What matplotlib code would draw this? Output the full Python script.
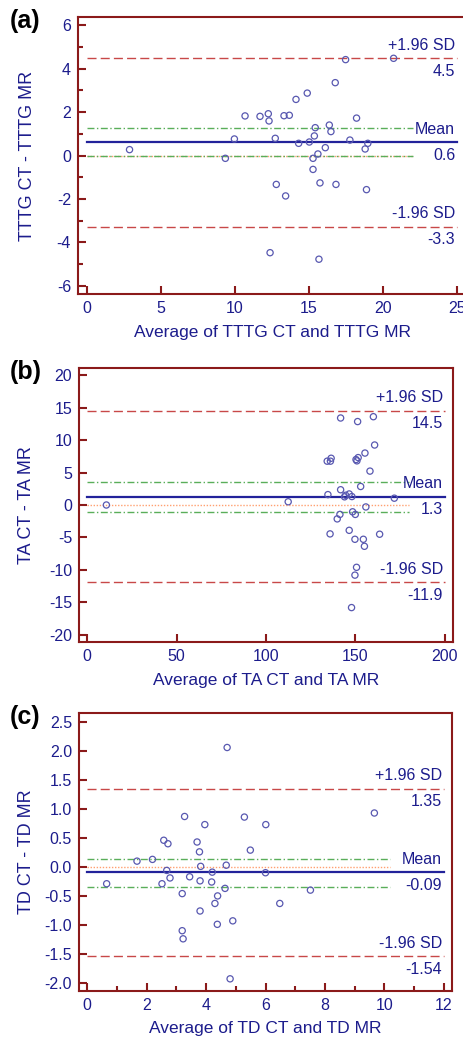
import matplotlib
matplotlib.use("Agg")
import matplotlib.pyplot as plt
from matplotlib.ticker import MultipleLocator

plt.rcParams["font.family"] = ["Liberation Sans", "DejaVu Sans"]

# (a) TTTG
tttg_avg = [2.88, 9.35, 9.96, 10.68, 11.69, 12.25, 12.30, 12.72, 12.79, 12.37, 13.42, 13.31,
            13.67, 14.12, 14.30, 14.88, 15.02, 15.42, 15.36, 15.27, 15.27, 15.60, 15.74, 15.67,
            16.10, 16.37, 16.48, 16.77, 16.82, 17.47, 17.76, 18.21, 18.79, 18.97, 18.88, 20.71]
tttg_diff = [0.27, -0.13, 0.76, 1.82, 1.80, 1.92, 1.59, 0.79, -1.33, -4.47, -1.86, 1.83,
             1.85, 2.58, 0.56, 2.87, 0.62, 1.28, 0.90, -0.13, -0.64, 0.07, -1.26, -4.77,
             0.36, 1.40, 1.10, 3.35, -1.33, 4.41, 0.71, 1.72, 0.30, 0.56, -1.57, 4.47]

# (b) TA
ta_avg = [10.8, 112.4, 134.2, 136.0, 136.4, 134.6, 135.8, 139.8, 141.3, 141.7, 141.7, 143.9,
          144.5, 146.5, 148.0, 146.5, 148.4, 149.9, 147.8, 149.7, 150.6, 149.7, 151.2, 150.8,
          151.5, 152.9, 155.3, 155.8, 154.4, 155.0, 158.1, 160.0, 160.7, 163.5, 171.7, 150.3]
ta_diff = [0.0, 0.5, 6.75, 6.75, 7.2, 1.6, -4.45, -2.14, -1.45, 13.4, 2.35, 1.26,
           1.5, 1.7, 1.3, -3.9, -1.05, -1.45, -15.8, -5.28, -9.6, -10.8, 12.85, 6.8,
           7.3, 2.85, 8.0, -0.3, -5.28, -6.36, 5.22, 13.6, 9.24, -4.5, 1.05, 7.0]

# (c) TD
td_avg = [0.66, 1.68, 2.20, 2.58, 2.72, 2.52, 2.68, 2.79, 3.20, 3.20, 3.23, 3.28,
          3.45, 3.70, 3.78, 3.82, 3.80, 3.80, 3.96, 4.19, 4.21, 4.30, 4.39, 4.38,
          4.64, 4.68, 4.71, 4.81, 4.90, 5.29, 5.49, 6.01, 6.00, 6.48, 7.51, 9.66]
td_diff = [-0.29, 0.10, 0.13, 0.46, 0.40, -0.29, -0.06, -0.19, -0.46, -1.10, -1.24, 0.87,
           -0.17, 0.43, 0.26, 0.01, -0.24, -0.76, 0.73, -0.26, -0.09, -0.63, -0.50, -0.99,
           -0.37, 0.03, 2.06, -1.93, -0.93, 0.86, 0.29, 0.73, -0.10, -0.63, -0.40, 0.93]

# mean, upper/lower limits, mean CI
stats = {
    "a": dict(mean=0.6, hi=4.48, lo=-3.27, ci=(1.28, -0.04), labels=("0.6", "4.5", "-3.3")),
    "b": dict(mean=1.25, hi=14.5, lo=-11.9, ci=(3.47, -1.06), labels=("1.3", "14.5", "-11.9")),
    "c": dict(mean=-0.095, hi=1.35, lo=-1.54, ci=(0.143, -0.35), labels=("-0.09", "1.35", "-1.54")),
}

NAVY = "#1c1c8c"
MAROON = "#8b1a1a"
RED = "#c84848"
GREEN = "#5aae5a"
ORANGE = "#ffa070"
PT = "#5858b0"

W, H = 463, 1041
fig = plt.figure(figsize=(W / 100, H / 100), dpi=100)


def px_axes(l, r, t, b):
    return fig.add_axes([l / W, 1 - b / H, (r - l) / W, (b - t) / H])


panels = [
    dict(key="a", box=(78, 466, 17, 294), x=tttg_avg, y=tttg_diff, xlim=(-0.6, 25.6), ylim=(-6.37, 6.37),
         xmax=25, ci_end=22, xmaj=5, xmin=None, ymaj=2, ymin=1, fmt="{:g}",
         xlabel="Average of TTTG CT and TTTG MR", ylabel="TTTG CT - TTTG MR"),
    dict(key="b", box=(79, 453, 368, 642), x=ta_avg, y=ta_diff, xlim=(-4.5, 204.5), ylim=(-21.1, 21.1),
         xmax=200, ci_end=180, xmaj=50, xmin=None, ymaj=5, ymin=None, fmt="{:g}",
         xlabel="Average of TA CT and TA MR", ylabel="TA CT - TA MR"),
    dict(key="c", box=(79, 452, 713, 991), x=td_avg, y=td_diff, xlim=(-0.27, 12.27), ylim=(-2.14, 2.655),
         xmax=12, ci_end=10.2, xmaj=2, xmin=1, ymaj=0.5, ymin=None, fmt="{:.1f}",
         xlabel="Average of TD CT and TD MR", ylabel="TD CT - TD MR"),
]

for p in panels:
    ax = px_axes(*p["box"])
    s = stats[p["key"]]
    ax.set_xlim(*p["xlim"])
    ax.set_ylim(*p["ylim"])

    # reference lines
    ax.plot([0, p["ci_end"]], [0, 0], color=ORANGE, lw=1.0, ls=(0, (1, 1.2)), zorder=2)
    for c in s["ci"]:
        ax.plot([0, p["ci_end"]], [c, c], color=GREEN, lw=1.0, ls=(0, (5, 1.8, 1, 1.8)), zorder=2)
    for v in (s["hi"], s["lo"]):
        ax.plot([0, p["xmax"]], [v, v], color=RED, lw=1.0, ls=(0, (6.5, 3)), zorder=2)
    ax.plot([0, p["xmax"]], [s["mean"], s["mean"]], color="#22229a", lw=1.6, zorder=3)

    ax.scatter(p["x"], p["y"], s=20, facecolors="none", edgecolors=PT, linewidths=0.9, zorder=4)

    # line labels
    tx = p["xmax"] - (p["xlim"][1] - p["xlim"][0]) * 0.005
    mv, hv, lv = s["labels"]
    for v, top, bot in ((s["hi"], "+1.96 SD", hv), (s["mean"], "Mean", mv), (s["lo"], "-1.96 SD", lv)):
        ax.annotate(top, (tx, v), xytext=(0, 4), textcoords="offset points",
                    ha="right", va="bottom", color=NAVY, fontsize=11.5)
        ax.annotate(bot, (tx, v), xytext=(0, -4), textcoords="offset points",
                    ha="right", va="top", color=NAVY, fontsize=11.5)

    # axes style
    for sp in ax.spines.values():
        sp.set_color(MAROON)
        sp.set_linewidth(1.5)
    ax.xaxis.set_major_locator(MultipleLocator(p["xmaj"]))
    ax.yaxis.set_major_locator(MultipleLocator(p["ymaj"]))
    if p["xmin"]:
        ax.xaxis.set_minor_locator(MultipleLocator(p["xmin"]))
    if p["ymin"]:
        ax.yaxis.set_minor_locator(MultipleLocator(p["ymin"]))
    ax.tick_params(which="major", direction="in", length=6, width=1.5, color=MAROON,
                   labelcolor=NAVY, labelsize=11.5, pad=5)
    ax.tick_params(which="minor", direction="in", length=3.5, width=1.5, color=MAROON)
    ax.xaxis.set_major_formatter(plt.FuncFormatter(lambda v, _: "{:g}".format(v)))
    fmt = p["fmt"]
    ax.yaxis.set_major_formatter(plt.FuncFormatter(lambda v, _, f=fmt: f.format(v)))

    l, r, t, b = p["box"]
    ax.set_xlabel(p["xlabel"], color=NAVY, fontsize=12.5, va="center")
    ax.xaxis.set_label_coords(0.5, -38 / (b - t))
    ax.set_ylabel(p["ylabel"], color=NAVY, fontsize=13, va="center")
    ax.yaxis.set_label_coords((27 - l) / (r - l), 0.5)

    fig.text(10 / W, 1 - (t + 4) / H, "(" + p["key"] + ")", fontsize=18, fontweight="bold",
             ha="left", va="center", color="black")

fig.savefig("out.png", dpi=100)
